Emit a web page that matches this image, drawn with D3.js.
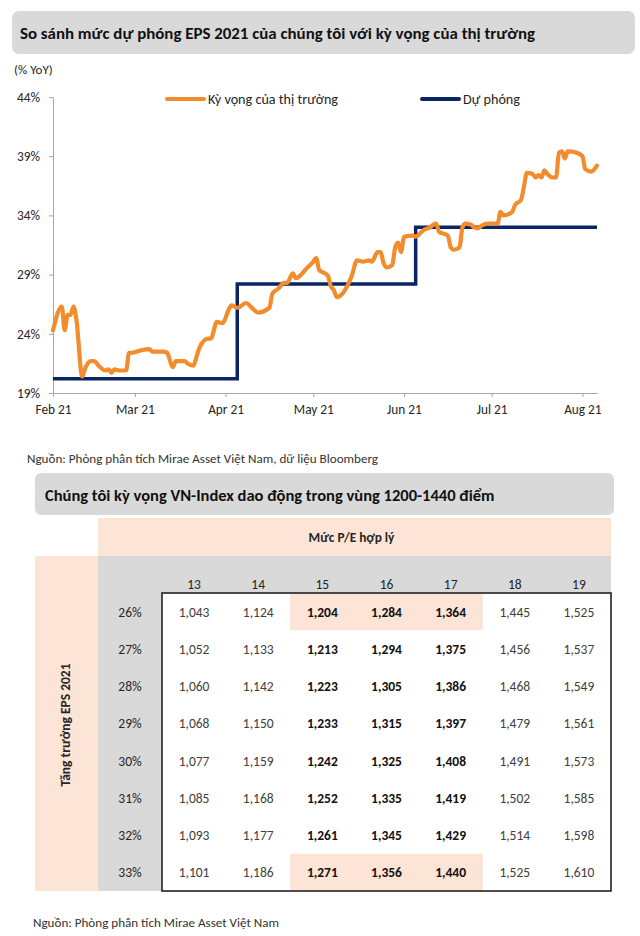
<!DOCTYPE html>
<html>
<head>
<meta charset="utf-8">
<script src="https://cdn.jsdelivr.net/npm/d3@7"></script>
<style>
  html, body { margin: 0; padding: 0; background: #fff; }
  svg { display: block; }
</style>
</head>
<body>
<svg id="chart" width="640" height="936"></svg>
<script>
// ---------------- DATA ----------------
const chartTitle = "So sánh mức dự phóng EPS 2021 của chúng tôi với kỳ vọng của thị trường";
const yUnit = "(% YoY)";
const seriesNames = ["Kỳ vọng của thị trường", "Dự phóng"];
const yTicks = [19, 24, 29, 34, 39, 44];
const xTickDates = ["2021-02-01", "2021-03-01", "2021-04-01", "2021-05-01", "2021-06-01", "2021-07-01", "2021-08-01"];

const marketDates = [
  "2021-02-01","2021-02-04","2021-02-05","2021-02-06","2021-02-07","2021-02-08","2021-02-09","2021-02-11",
  "2021-02-12","2021-02-14","2021-02-15","2021-02-17","2021-02-19","2021-02-20","2021-02-21","2021-02-22",
  "2021-02-24","2021-02-26","2021-02-27","2021-02-28","2021-03-03","2021-03-06","2021-03-07","2021-03-11",
  "2021-03-12","2021-03-14","2021-03-15","2021-03-18","2021-03-19","2021-03-21","2021-03-22","2021-03-23",
  "2021-03-26","2021-03-27","2021-03-29","2021-03-31","2021-04-02","2021-04-03","2021-04-05","2021-04-06",
  "2021-04-08","2021-04-10","2021-04-12","2021-04-16","2021-04-17","2021-04-19","2021-04-21","2021-04-22",
  "2021-04-24","2021-04-25","2021-04-29","2021-05-01","2021-05-02","2021-05-03","2021-05-05","2021-05-06",
  "2021-05-07","2021-05-08","2021-05-09","2021-05-11","2021-05-14","2021-05-16","2021-05-18","2021-05-20",
  "2021-05-21","2021-05-23","2021-05-24","2021-05-25","2021-05-26","2021-05-28","2021-05-29","2021-05-30",
  "2021-05-31","2021-06-01","2021-06-04","2021-06-05","2021-06-07","2021-06-08","2021-06-10","2021-06-11",
  "2021-06-12","2021-06-13","2021-06-14","2021-06-16","2021-06-17","2021-06-18","2021-06-20","2021-06-21",
  "2021-06-22","2021-06-24","2021-06-25","2021-06-26","2021-06-28","2021-06-30","2021-07-03","2021-07-04",
  "2021-07-05","2021-07-08","2021-07-09","2021-07-11","2021-07-12","2021-07-13","2021-07-15","2021-07-16",
  "2021-07-17","2021-07-18","2021-07-19","2021-07-20","2021-07-22","2021-07-23","2021-07-24","2021-07-25",
  "2021-07-26","2021-07-27","2021-07-30","2021-08-01","2021-08-02","2021-08-04","2021-08-06"
];
const marketValues = [
  24.3,26.3,24.3,25.6,25.6,26.3,25.2,20.4,
  21.1,21.7,21.7,21.2,20.9,21.0,20.7,21.0,
  20.9,20.9,22.4,22.4,22.6,22.7,22.5,22.5,
  22.4,21.2,21.7,21.7,21.5,21.3,22.0,22.8,
  23.6,23.6,25.0,24.9,26.0,26.4,26.2,26.3,
  26.6,26.2,25.8,26.2,27.4,27.8,28.3,28.3,
  29.1,28.7,29.6,30.1,30.4,29.4,29.1,28.9,
  28.0,27.7,27.1,27.4,28.8,30.2,30.1,30.2,
  30.1,30.9,30.9,30.0,29.6,29.8,31.3,31.7,
  30.9,32.2,32.3,32.2,32.6,32.8,33.0,33.2,
  33.3,32.6,32.5,32.3,31.3,31.1,31.3,33.0,
  33.3,33.2,33.0,32.9,33.2,33.3,33.3,34.3,
  34.0,34.3,34.9,35.3,36.4,37.6,37.5,37.2,
  37.4,37.2,37.8,37.5,37.2,37.2,39.3,39.4,
  38.8,39.4,39.3,39.0,37.9,37.7,38.2
];

const forecastDates = ["2021-02-01", "2021-04-05", "2021-06-05", "2021-08-06"];
const forecastValues = [20.2, 28.2, 33.0, 33.0];

const tableTitle = "Chúng tôi kỳ vọng VN-Index dao động trong vùng 1200-1440 điểm";
const colHeader = "Mức P/E hợp lý";
const rowHeader = "Tăng trưởng EPS 2021";
const peLevels = [13, 14, 15, 16, 17, 18, 19];
const epsGrowth = ["26%", "27%", "28%", "29%", "30%", "31%", "32%", "33%"];
const indexValues = [
  ["1,043","1,124","1,204","1,284","1,364","1,445","1,525"],
  ["1,052","1,133","1,213","1,294","1,375","1,456","1,537"],
  ["1,060","1,142","1,223","1,305","1,386","1,468","1,549"],
  ["1,068","1,150","1,233","1,315","1,397","1,479","1,561"],
  ["1,077","1,159","1,242","1,325","1,408","1,491","1,573"],
  ["1,085","1,168","1,252","1,335","1,419","1,502","1,585"],
  ["1,093","1,177","1,261","1,345","1,429","1,514","1,598"],
  ["1,101","1,186","1,271","1,356","1,440","1,525","1,610"]
];
const boldPE = [15, 16, 17];
const highlightRows = ["26%", "33%"];
const source1 = "Nguồn: Phòng phân tích Mirae Asset Việt Nam, dữ liệu Bloomberg";
const source2 = "Nguồn: Phòng phân tích Mirae Asset Việt Nam";

// ---------------- STYLE ----------------
const FONT = "Carlito, 'Open Sans', 'Noto Sans', sans-serif";
const ORANGE = "#F28C2C";
const NAVY = "#0B2563";
const GREYBOX = "#D9D9D9";
const PEACH = "#FCE4D6";
const TEXT = "#262626";

const svg = d3.select("#chart").style("font-family", FONT);
const parse = d3.timeParse("%Y-%m-%d");

function fit(sel, target) {
  const n = sel.node();
  const len = n.getComputedTextLength();
  if (Math.abs(len - target) / target > 0.02) {
    sel.attr("textLength", target).attr("lengthAdjust", "spacingAndGlyphs");
  }
  return sel;
}

// ---------------- TITLE 1 ----------------
svg.append("rect").attr("x", 12).attr("y", 11).attr("width", 623).attr("height", 43)
  .attr("rx", 7).attr("fill", GREYBOX);
fit(svg.append("text").attr("x", 20).attr("y", 39).attr("font-size", 16.5).attr("font-weight", "bold")
  .attr("fill", "#111").text(chartTitle), 515);

svg.append("text").attr("x", 14).attr("y", 74).attr("font-size", 13).attr("fill", TEXT).text(yUnit);

// ---------------- LINE CHART ----------------
const x = d3.scaleTime().domain([parse("2021-02-01"), parse("2021-08-06")]).range([53, 597]);
const y = d3.scaleLinear().domain([19, 44]).range([393, 97]);

const yAxis = d3.axisLeft(y).tickValues(yTicks).tickFormat(d => d + "%").tickSize(4).tickPadding(9);
const gy = svg.append("g").attr("transform", "translate(53,0)").call(yAxis);
gy.select(".domain").attr("stroke", "#A6A6A6").attr("stroke-width", 1);
gy.selectAll(".tick line").attr("stroke", "#A6A6A6");
gy.selectAll(".tick text").attr("font-size", 13.3).attr("font-family", FONT).attr("fill", TEXT);

const xAxis = d3.axisBottom(x).tickValues(xTickDates.map(parse)).tickFormat(d3.timeFormat("%b %y"))
  .tickSize(4).tickSizeOuter(0).tickPadding(8);
const gx = svg.append("g").attr("transform", "translate(0,393)").call(xAxis);
gx.select(".domain").attr("stroke", "#A6A6A6").attr("stroke-width", 1);
gx.selectAll(".tick line").attr("stroke", "#A6A6A6");
gx.selectAll(".tick text").attr("font-size", 13.3).attr("font-family", FONT).attr("fill", TEXT);

const market = marketDates.map((d, i) => ({ date: parse(d), value: marketValues[i] }));
const forecast = forecastDates.map((d, i) => ({ date: parse(d), value: forecastValues[i] }));

svg.append("path").datum(forecast)
  .attr("d", d3.line().x(d => x(d.date)).y(d => y(d.value)).curve(d3.curveStepAfter))
  .attr("fill", "none").attr("stroke", NAVY).attr("stroke-width", 3.5);

svg.append("path").datum(market)
  .attr("d", d3.line().x(d => x(d.date)).y(d => y(d.value)).curve(d3.curveMonotoneX))
  .attr("fill", "none").attr("stroke", ORANGE).attr("stroke-width", 4.2)
  .attr("stroke-linejoin", "round").attr("stroke-linecap", "round");

// legend
const legend = [
  { name: seriesNames[0], color: ORANGE, x0: 167, w: 130 },
  { name: seriesNames[1], color: NAVY, x0: 422, w: 57 }
];
legend.forEach(l => {
  svg.append("line").attr("x1", l.x0).attr("x2", l.x0 + 37).attr("y1", 99).attr("y2", 99)
    .attr("stroke", l.color).attr("stroke-width", 4).attr("stroke-linecap", "round");
  fit(svg.append("text").attr("x", l.x0 + 41).attr("y", 104).attr("font-size", 13.3)
    .attr("fill", TEXT).text(l.name), l.w);
});

fit(svg.append("text").attr("x", 27).attr("y", 463).attr("font-size", 11.5).attr("fill", "#333").text(source1), 351);

// ---------------- TABLE ----------------
svg.append("rect").attr("x", 35).attr("y", 473).attr("width", 579).attr("height", 42)
  .attr("rx", 6).attr("fill", GREYBOX);
fit(svg.append("text").attr("x", 45).attr("y", 501).attr("font-size", 16.5).attr("font-weight", "bold")
  .attr("fill", "#111").text(tableTitle), 456);

const tLeft = 162, tRight = 611, tTop = 593, tBottom = 891;
const col = d3.scaleBand().domain(peLevels).range([tLeft, tRight]);
const row = d3.scaleBand().domain(epsGrowth).range([tTop, tBottom]);

// peach header
svg.append("rect").attr("x", 98).attr("y", 518).attr("width", tRight - 98).attr("height", 38).attr("fill", PEACH);
svg.append("text").attr("x", (98 + tRight) / 2 - 3).attr("y", 542).attr("text-anchor", "middle")
  .attr("font-size", 13.3).attr("font-weight", "bold").attr("fill", TEXT).text(colHeader);
// grey band
svg.append("rect").attr("x", 98).attr("y", 556).attr("width", tRight - 98).attr("height", tTop - 556).attr("fill", GREYBOX);
svg.append("rect").attr("x", 98).attr("y", 556).attr("width", tLeft - 98).attr("height", tBottom - 556).attr("fill", GREYBOX);
// peach left column
svg.append("rect").attr("x", 35).attr("y", 556).attr("width", 63).attr("height", tBottom - 556).attr("fill", PEACH);
svg.append("text").attr("transform", `translate(70,${725}) rotate(-90)`)
  .attr("text-anchor", "middle").attr("font-size", 13.5).attr("font-weight", "bold").attr("fill", TEXT)
  .text(rowHeader);

// highlight cells
highlightRows.forEach(r => {
  svg.append("rect").attr("x", col(boldPE[0])).attr("y", row(r))
    .attr("width", col(boldPE[boldPE.length - 1]) + col.bandwidth() - col(boldPE[0]))
    .attr("height", row.bandwidth()).attr("fill", PEACH);
});

// column headers
svg.selectAll(".colh").data(peLevels).enter().append("text")
  .attr("x", d => col(d) + col.bandwidth() / 2).attr("y", 589).attr("text-anchor", "middle")
  .attr("font-size", 13.5).attr("fill", TEXT).text(d => d);

// row labels
svg.selectAll(".rowh").data(epsGrowth).enter().append("text")
  .attr("x", 130).attr("y", d => row(d) + row.bandwidth() / 2 + 5).attr("text-anchor", "middle")
  .attr("font-size", 13.5).attr("fill", TEXT).text(d => d);

// cells
indexValues.forEach((vals, ri) => {
  vals.forEach((v, ci) => {
    const pe = peLevels[ci];
    const bold = boldPE.includes(pe);
    svg.append("text").attr("x", col(pe) + col.bandwidth() / 2)
      .attr("y", row(epsGrowth[ri]) + row.bandwidth() / 2 + 5)
      .attr("text-anchor", "middle").attr("font-size", 13.5)
      .attr("font-weight", bold ? "bold" : "normal")
      .attr("fill", bold ? "#111" : "#404040").text(v);
  });
});

// border
svg.append("rect").attr("x", tLeft).attr("y", tTop).attr("width", tRight - tLeft).attr("height", tBottom - tTop)
  .attr("fill", "none").attr("stroke", "#222").attr("stroke-width", 1.6);

fit(svg.append("text").attr("x", 33).attr("y", 927).attr("font-size", 11.5).attr("fill", "#333").text(source2), 246);
</script>
</body>
</html>
